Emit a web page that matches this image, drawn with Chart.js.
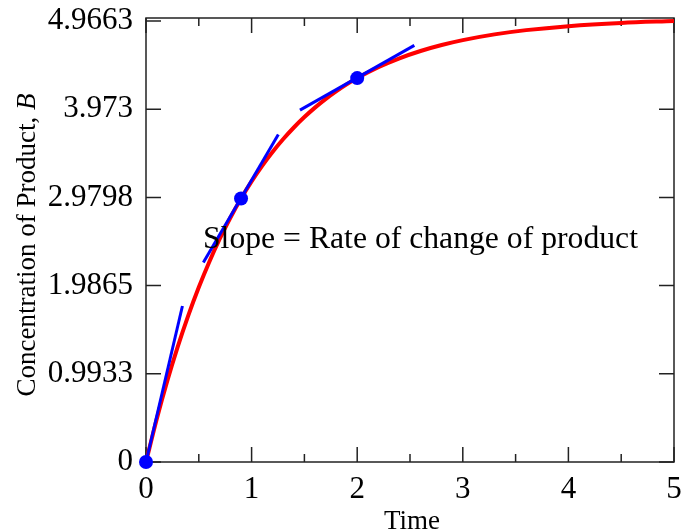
<!DOCTYPE html>
<html><head><meta charset="utf-8">
<script src="https://cdn.jsdelivr.net/npm/chart.js@4.4.1/dist/chart.umd.min.js"></script>
<style>html,body{margin:0;padding:0;background:#fff;}#wrap{width:682px;height:531px;}</style>
</head><body><div id="wrap"><canvas id="c" width="682" height="531"></canvas></div>
<script>
// Data
const curveT = [0,0.1,0.2,0.3,0.4,0.5,0.6,0.7,0.8,0.9,1.0,1.1,1.2,1.3,1.4,1.5,1.6,1.7,1.8,1.9,2.0,2.2,2.4,2.6,2.8,3.0,3.3,3.6,4.0,4.5,5.0];
const curveB = [0,0.4758,0.9063,1.2959,1.6484,1.9673,2.2559,2.5171,2.7534,2.9672,3.1606,3.3356,3.4940,3.6373,3.7670,3.8843,3.9905,4.0866,4.1735,4.2522,4.3233,4.4460,4.5464,4.6286,4.6960,4.7511,4.8156,4.8634,4.9084,4.9445,4.9663];
const markT = [0, 0.9, 2.0];
const markB = [0, 2.967, 4.323];
const tangent1 = [[0,0],[0.345,1.757]];
const tangent2 = [[0.543,2.246],[1.253,3.687]];
const tangent3 = [[1.458,3.962],[2.541,4.692]];
const xTicks = [0,1,2,3,4,5];
const xMinorTicks = [0.5,1.5,2.5,3.5,4.5];
const yTicks = [0,0.9933,1.9865,2.9798,3.973,4.9663];
const yTickLabels = ['0','0.9933','1.9865','2.9798','3.973','4.9663'];
const xTitle = 'Time';
const yTitleMain = 'Concentration of Product, ';
const yTitleVar = 'B';
const note = 'Slope = Rate of change of product';

const FONT = '"Liberation Serif", "Times New Roman", serif';
const toPts = arr => arr.map(p => ({x:p[0], y:p[1]}));

const framePlugin = {
  id: 'frame',
  beforeDatasetsDraw(chart) {
    const {ctx, chartArea: a, scales: {x, y}} = chart;
    ctx.save();
    ctx.strokeStyle = '#222';
    ctx.lineWidth = 1.5;
    ctx.strokeRect(a.left, a.top, a.right - a.left, a.bottom - a.top);
    ctx.beginPath();
    xTicks.forEach(v => { const px = x.getPixelForValue(v);
      ctx.moveTo(px, a.bottom); ctx.lineTo(px, a.bottom - 15);
      ctx.moveTo(px, a.top); ctx.lineTo(px, a.top + 15); });
    xMinorTicks.forEach(v => { const px = x.getPixelForValue(v);
      ctx.moveTo(px, a.bottom); ctx.lineTo(px, a.bottom - 8);
      ctx.moveTo(px, a.top); ctx.lineTo(px, a.top + 8); });
    yTicks.forEach(v => { const py = y.getPixelForValue(v);
      ctx.moveTo(a.left, py); ctx.lineTo(a.left + 15, py);
      ctx.moveTo(a.right, py); ctx.lineTo(a.right - 15, py); });
    ctx.stroke();
    ctx.restore();
  },
  afterDraw(chart) {
    const {ctx, chartArea: a, scales: {x, y}} = chart;
    ctx.save();
    ctx.fillStyle = '#000';
    ctx.textBaseline = 'alphabetic';
    // annotation
    ctx.font = '31.7px ' + FONT;
    ctx.textAlign = 'left';
    ctx.fillText(note, 203, 248);
    // x title
    ctx.font = '27px ' + FONT;
    ctx.textAlign = 'center';
    ctx.fillText(xTitle, (a.left + a.right) / 2 + 2, 529);
    // y title
    ctx.translate(35, 245);
    ctx.rotate(-Math.PI/2);
    ctx.font = '27px ' + FONT;
    const w1 = ctx.measureText(yTitleMain).width;
    ctx.font = 'italic 27px ' + FONT;
    const w2 = ctx.measureText(yTitleVar).width;
    const start = -(w1 + w2)/2;
    ctx.textAlign = 'left';
    ctx.font = '27px ' + FONT;
    ctx.fillText(yTitleMain, start, 0);
    ctx.font = 'italic 27px ' + FONT;
    ctx.fillText(yTitleVar, start + w1, 0);
    ctx.restore();
  }
};

new Chart(document.getElementById('c'), {
  type: 'scatter',
  data: {
    datasets: [
      {data: curveT.map((t,i)=>({x:t, y:curveB[i]})), showLine: true, borderColor: '#ff0000', borderWidth: 4, pointRadius: 0, cubicInterpolationMode: 'monotone', order: 3},
      {data: toPts(tangent1), showLine: true, borderColor: '#0000ff', borderWidth: 3, pointRadius: 0, order: 2},
      {data: toPts(tangent2), showLine: true, borderColor: '#0000ff', borderWidth: 3, pointRadius: 0, order: 2},
      {data: toPts(tangent3), showLine: true, borderColor: '#0000ff', borderWidth: 3, pointRadius: 0, order: 2},
      {data: markT.map((t,i)=>({x:t, y:markB[i]})), showLine: false, backgroundColor: '#0000ff', borderColor: '#0000ff', pointRadius: 7, borderWidth: 0, order: 1, clip: false}
    ]
  },
  options: {
    responsive: false,
    animation: false,
    devicePixelRatio: 1,
    layout: {padding: {top: 18, right: 8, left: 0, bottom: 0}},
    plugins: {legend: {display: false}, tooltip: {enabled: false}},
    scales: {
      x: {
        type: 'linear', min: 0, max: 5,
        afterBuildTicks: s => { s.ticks = xTicks.map(v => ({value: v})); },
        afterFit: s => { s.height = 69; s.paddingLeft = 0; s.paddingRight = 0; },
        grid: {display: false, drawTicks: false},
        border: {display: false},
        ticks: {color: '#000', padding: 9, maxRotation: 0, font: {family: FONT, size: 31}, callback: v => String(v)}
      },
      y: {
        type: 'linear', min: 0, max: 5,
        afterBuildTicks: s => { s.ticks = yTicks.map(v => ({value: v})); },
        afterFit: s => { s.width = 146; s.paddingTop = 0; s.paddingBottom = 0; },
        grid: {display: false, drawTicks: false},
        border: {display: false},
        ticks: {color: '#000', padding: 13, font: {family: FONT, size: 31}, callback: (v, i) => yTickLabels[i]}
      }
    }
  },
  plugins: [framePlugin]
});
</script>
</body></html>
